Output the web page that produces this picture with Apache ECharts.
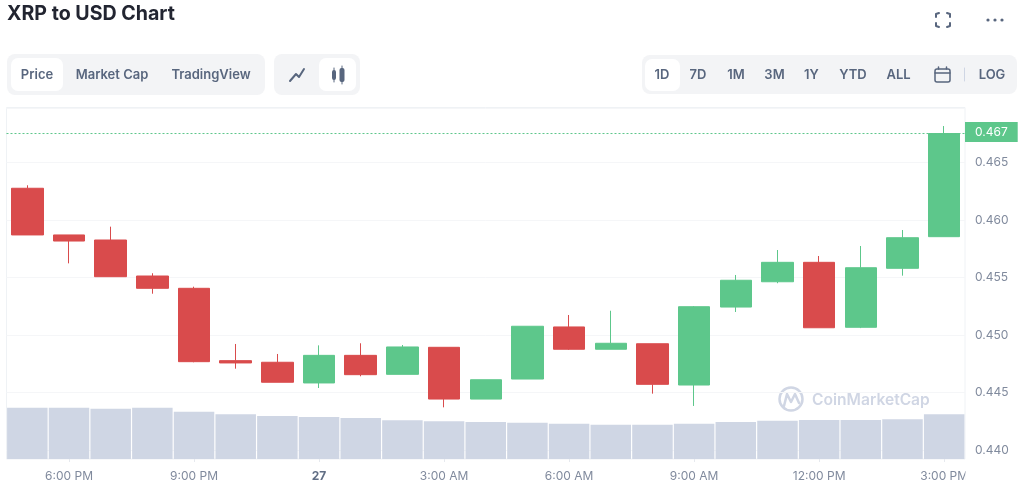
<!DOCTYPE html>
<html>
<head>
<meta charset="utf-8">
<style>html,body{margin:0;padding:0;background:#fff}#c{width:1024px;height:495px}</style>
<script src="https://cdn.jsdelivr.net/npm/echarts@6/dist/echarts.min.js"></script>
</head>
<body>
<div id="c"></div>
<script>
const categories = ['5:00 PM','6:00 PM','7:00 PM','8:00 PM','9:00 PM','10:00 PM','11:00 PM','27','1:00 AM','2:00 AM','3:00 AM','4:00 AM','5:00 AM','6:00 AM','7:00 AM','8:00 AM','9:00 AM','10:00 AM','11:00 AM','12:00 PM','1:00 PM','2:00 PM','3:00 PM'];
const opens  = [.46276,.45870,.45826,.45513,.45406,.44777,.44763,.44583,.44823,.44658,.44893,.44443,.44617,.45070,.44876,.44924,.44565,.45243,.45463,.45632,.45067,.45580,.45855];
const closes = [.45870,.45817,.45507,.45406,.44768,.44757,.44589,.44823,.44655,.44896,.44443,.44611,.45076,.44876,.44928,.44571,.45246,.45476,.45632,.45063,.45585,.45846,.46752];
const lows   = [.45870,.45623,.45507,.45359,.44763,.44707,.44589,.44539,.44641,.44658,.44371,.44443,.44617,.44870,.44876,.44490,.44383,.45200,.45450,.45063,.45060,.45516,.45855];
const highs  = [.46302,.45870,.45942,.45537,.45420,.44922,.44835,.44910,.44928,.44913,.44893,.44611,.45076,.45174,.45211,.44924,.45252,.45522,.45739,.45687,.45774,.45913,.46817];
const volumes = [51.3,51.3,50.3,51.3,47.3,44.7,43,42,41,38.7,37.7,37,36.3,35.3,34.3,34.3,35.3,37,38.3,39,39,39.7,44.7];
const currentPrice = 0.46752;
const rangeTabs = ['1D','7D','1M','3M','1Y','YTD','ALL'];
const rangeTabX = [662,698,736,774.5,811.5,853,898.5];

const FONT = 'Inter, "Noto Sans", sans-serif';
const GREEN = '#5dc78b', RED = '#d94b4c', INK = '#58667e';
const candleData = categories.map((_, i) => [opens[i], closes[i], lows[i], highs[i]]);
const showEvery3 = i => i % 3 === 1;

function panel(x, y, w, h, r, fill) {
  return { type: 'rect', shape: { x, y, width: w, height: h, r }, style: { fill }, silent: true };
}
function label(text, cx, cy, size, weight, color, align) {
  return { type: 'text', x: cx, y: cy, style: { text, font: `${weight} ${size}px ${FONT}`, fill: color, align: align || 'center', verticalAlign: 'middle' }, silent: true };
}
function stroke(type, shape, color, w) {
  return { type, shape, style: { stroke: color, lineWidth: w || 2, fill: 'none', lineCap: 'round', lineJoin: 'round' }, silent: true };
}

const graphics = [
  { type: 'rect', shape: { x: 6.5, y: 107.5, width: 958.5, height: 351.5 }, style: { fill: 'none', stroke: '#eff2f5', lineWidth: 1 }, silent: true },
  label('XRP to USD Chart', 7, 14.5, 19.6, 700, '#222531', 'left'),
  panel(7, 54, 258, 41, 8, '#f3f4f6'),
  panel(11, 58, 52, 33, 7, '#ffffff'),
  label('Price', 37, 75, 13, 600, INK),
  label('Market Cap', 112, 75, 13, 600, INK),
  label('TradingView', 211, 75, 13, 600, INK),
  panel(274, 54, 86, 41, 8, '#f3f4f6'),
  panel(319, 58, 37, 33, 7, '#ffffff'),
  stroke('polyline', { points: [[290, 81], [296, 74], [299, 77], [304, 69]] }, INK),
  panel(332, 70, 4, 10, 2, INK), panel(339.5, 68, 5, 14, 2, INK),
  stroke('line', { x1: 334, y1: 68, x2: 334, y2: 82 }, INK, 1),
  stroke('line', { x1: 342, y1: 66, x2: 342, y2: 84 }, INK, 1),
  panel(642, 55, 375, 39, 8, '#f3f4f6'),
  panel(645, 59, 35, 32, 7, '#ffffff'),
  ...rangeTabs.map((t, i) => label(t, rangeTabX[i], 75, 13, 600, INK)),
  { type: 'rect', shape: { x: 935, y: 69, width: 15, height: 13, r: 2 }, style: { fill: 'none', stroke: INK, lineWidth: 1.5 }, silent: true },
  stroke('line', { x1: 935, y1: 73, x2: 950, y2: 73 }, INK, 1.5),
  stroke('line', { x1: 938.5, y1: 67, x2: 938.5, y2: 69 }, INK, 1.5),
  stroke('line', { x1: 946.5, y1: 67, x2: 946.5, y2: 69 }, INK, 1.5),
  stroke('line', { x1: 964.5, y1: 68, x2: 964.5, y2: 81 }, '#cfd6e4', 1),
  label('LOG', 992, 75, 13, 600, INK),
  stroke('polyline', { points: [[936, 17], [936, 14], [939, 13]] }, INK),
  stroke('polyline', { points: [[947, 13], [950, 14], [950, 17]] }, INK),
  stroke('polyline', { points: [[936, 23], [936, 26], [939, 27]] }, INK),
  stroke('polyline', { points: [[947, 27], [950, 26], [950, 23]] }, INK),
  { type: 'circle', shape: { cx: 988, cy: 20, r: 1.6 }, style: { fill: INK }, silent: true },
  { type: 'circle', shape: { cx: 995, cy: 20, r: 1.6 }, style: { fill: INK }, silent: true },
  { type: 'circle', shape: { cx: 1002, cy: 20, r: 1.6 }, style: { fill: INK }, silent: true },
  { type: 'circle', shape: { cx: 791, cy: 399, r: 11.5 }, style: { fill: 'none', stroke: '#d0d6e4', lineWidth: 2.5 }, silent: true },
  stroke('polyline', { points: [[784, 406], [787, 394], [791, 402], [795, 394], [799, 403]] }, '#d0d6e4', 2.5),
  label('CoinMarketCap', 812, 400, 15.6, 600, '#d0d6e4', 'left'),
  { type: 'rect', shape: { x: 965.5, y: 466, width: 8, height: 18 }, style: { fill: '#fff' }, z: 10, silent: true }
];

const chart = echarts.init(document.getElementById('c'), null, { renderer: 'canvas', width: 1024, height: 495 });
chart.setOption({
  animation: false,
  backgroundColor: '#ffffff',
  textStyle: { fontFamily: FONT },
  graphic: graphics,
  grid: [
    { left: 6.5, width: 958.5, top: 108, height: 342 },
    { left: 6.5, width: 958.5, top: 400, height: 59 }
  ],
  xAxis: [
    { type: 'category', gridIndex: 0, data: categories, show: false },
    { type: 'category', gridIndex: 1, data: categories,
      axisLine: { show: false },
      axisTick: { show: true, alignWithLabel: true, interval: showEvery3, length: 3, lineStyle: { color: '#e6e9ee' } },
      axisLabel: {
        interval: showEvery3, margin: 11, fontSize: 12, color: '#808a9d', fontFamily: FONT, hideOverlap: false,
        formatter: v => v === '27' ? '{b|27}' : v,
        rich: { b: { fontWeight: 700, fontSize: 12, color: '#616e85', fontFamily: FONT } }
      } },
    { type: 'value', gridIndex: 0, min: 0, max: 1, show: false, splitLine: { show: false } }
  ],
  yAxis: [
    { type: 'value', gridIndex: 0, position: 'right', min: 0.44, max: 0.469739, interval: 0.005, scale: true,
      axisLine: { show: false }, axisTick: { show: false },
      splitLine: { show: true, lineStyle: { color: '#f5f6f8', width: 1 } },
      axisLabel: { margin: 10, fontSize: 12, color: '#808a9d', fontFamily: FONT, showMaxLabel: false, formatter: v => v.toFixed(3) } },
    { type: 'value', gridIndex: 1, min: 0, max: 59, show: false, splitLine: { show: false } }
  ],
  series: [
    { type: 'bar', name: 'Volume', xAxisIndex: 1, yAxisIndex: 1, data: volumes, barWidth: 40.5,
      itemStyle: { color: '#cfd6e4' }, silent: true },
    { type: 'candlestick', name: 'XRP', xAxisIndex: 0, yAxisIndex: 0, data: candleData, barWidth: 32, z: 3,
      clip: false, silent: true,
      itemStyle: { color: GREEN, color0: RED, borderColor: GREEN, borderColor0: RED, borderWidth: 1 } },
    { type: 'line', name: 'Current price', xAxisIndex: 2, yAxisIndex: 0, z: 2, silent: true,
      data: [[0, currentPrice], [1, currentPrice]],
      symbol: 'none', clip: false, color: GREEN,
      itemStyle: { color: GREEN },
      lineStyle: { type: [2, 2], color: GREEN, width: 1, opacity: 1 },
      endLabel: { show: true, distance: 0, formatter: '0.467', backgroundColor: GREEN, color: '#ffffff',
        fontSize: 12, fontFamily: FONT, padding: [4, 10, 4, 10], offset: [0, -1.5] } }
  ]
});
</script>
</body>
</html>
